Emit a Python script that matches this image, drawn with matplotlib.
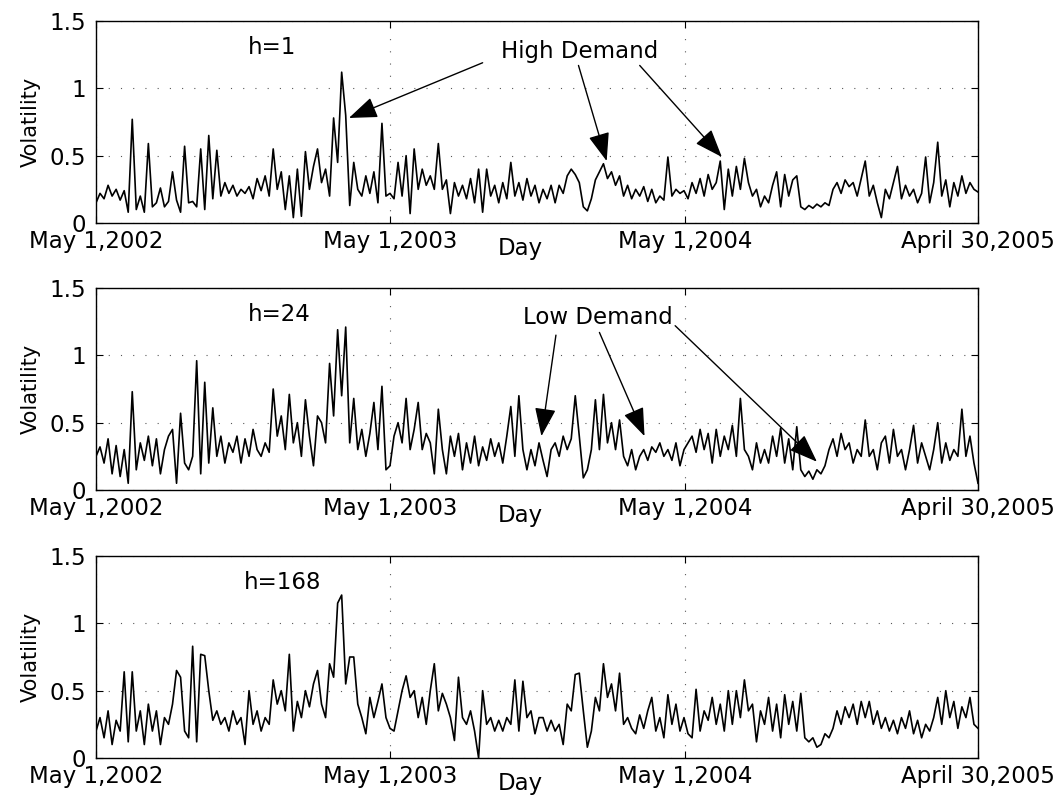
import numpy as np
import matplotlib
matplotlib.use("Agg")
import matplotlib.pyplot as plt

plt.rcParams["font.family"] = ["DejaVu Sans"]

# Volatility samples, one every ~5 days from May 1, 2002 to April 30, 2005
vol_h1 = [
    0.15, 0.22, 0.18, 0.28, 0.20, 0.25, 0.17, 0.24, 0.08, 0.77,
    0.10, 0.20, 0.08, 0.59, 0.12, 0.15, 0.26, 0.12, 0.16, 0.38,
    0.17, 0.08, 0.57, 0.15, 0.16, 0.12, 0.55, 0.10, 0.65, 0.18,
    0.54, 0.20, 0.30, 0.22, 0.28, 0.20, 0.25, 0.22, 0.27, 0.18,
    0.33, 0.24, 0.35, 0.20, 0.55, 0.25, 0.38, 0.10, 0.35, 0.04,
    0.40, 0.05, 0.53, 0.25, 0.42, 0.55,
    0.30, 0.40, 0.20, 0.78, 0.45, 1.12, 0.80, 0.13, 0.45, 0.25,
    0.20, 0.35, 0.22, 0.38, 0.15, 0.74, 0.20, 0.22, 0.18, 0.45,
    0.20, 0.50, 0.07, 0.55, 0.25, 0.40, 0.28, 0.35, 0.25, 0.59,
    0.25, 0.32, 0.07, 0.30, 0.20, 0.28, 0.18, 0.33, 0.15, 0.40,
    0.08, 0.40, 0.20, 0.28, 0.15, 0.30, 0.18, 0.45, 0.20, 0.30,
    0.17, 0.33, 0.20, 0.28, 0.15,
    0.25, 0.18, 0.28, 0.15, 0.28, 0.22, 0.35, 0.40, 0.36, 0.30,
    0.12, 0.09, 0.18, 0.32, 0.38, 0.44, 0.33, 0.38, 0.28, 0.35,
    0.20, 0.28, 0.18, 0.25, 0.20, 0.27, 0.16, 0.25, 0.15, 0.20,
    0.17, 0.49, 0.20, 0.25, 0.22, 0.24, 0.18, 0.30, 0.22, 0.33,
    0.20, 0.36, 0.25, 0.30, 0.46, 0.10, 0.40, 0.20, 0.42, 0.25,
    0.48, 0.30, 0.20, 0.25, 0.12,
    0.20, 0.15, 0.28, 0.38, 0.12, 0.36, 0.20, 0.32, 0.35, 0.12,
    0.10, 0.13, 0.11, 0.14, 0.12, 0.15, 0.13, 0.25, 0.30, 0.22,
    0.32, 0.27, 0.30, 0.20, 0.33, 0.46, 0.20, 0.28, 0.15, 0.04,
    0.25, 0.18, 0.30, 0.42, 0.18, 0.28, 0.20, 0.25, 0.15, 0.22,
    0.49, 0.15, 0.30, 0.60, 0.20, 0.32, 0.12, 0.30, 0.20, 0.35,
    0.22, 0.30, 0.25, 0.23,
]

vol_h24 = [
    0.25, 0.32, 0.20, 0.38, 0.12, 0.33, 0.10, 0.30, 0.05, 0.73,
    0.15, 0.35, 0.22, 0.40, 0.18, 0.38, 0.12, 0.30, 0.40, 0.45,
    0.05, 0.57, 0.20, 0.15, 0.25, 0.96, 0.12, 0.80, 0.20, 0.61,
    0.25, 0.40, 0.20, 0.35, 0.28, 0.40, 0.20, 0.38, 0.25, 0.45,
    0.30, 0.25, 0.35, 0.28, 0.75, 0.40, 0.55, 0.30, 0.71, 0.35,
    0.50, 0.25, 0.67, 0.40, 0.18, 0.55,
    0.50, 0.35, 0.94, 0.55, 1.19, 0.70, 1.21, 0.35, 0.68, 0.30,
    0.45, 0.25, 0.42, 0.65, 0.30, 0.77, 0.15, 0.18, 0.40, 0.50,
    0.35, 0.68, 0.30, 0.45, 0.65, 0.30, 0.42, 0.35, 0.12, 0.60,
    0.30, 0.12, 0.40, 0.25, 0.42, 0.15, 0.35, 0.20, 0.40, 0.18,
    0.32, 0.22, 0.38, 0.25, 0.35, 0.20, 0.40, 0.62, 0.25, 0.70,
    0.30, 0.15, 0.30, 0.18, 0.35,
    0.22, 0.10, 0.30, 0.35, 0.25, 0.40, 0.30, 0.38, 0.70, 0.40,
    0.09, 0.15, 0.30, 0.67, 0.30, 0.71, 0.35, 0.50, 0.30, 0.52,
    0.25, 0.18, 0.30, 0.15, 0.25, 0.30, 0.22, 0.32, 0.28, 0.35,
    0.25, 0.30, 0.22, 0.35, 0.18, 0.30, 0.35, 0.40, 0.28, 0.45,
    0.30, 0.42, 0.20, 0.45, 0.25, 0.40, 0.30, 0.48, 0.25, 0.68,
    0.30, 0.25, 0.15, 0.35, 0.20,
    0.30, 0.20, 0.40, 0.25, 0.46, 0.20, 0.38, 0.15, 0.47, 0.15,
    0.10, 0.14, 0.08, 0.15, 0.12, 0.18, 0.30, 0.38, 0.25, 0.42,
    0.30, 0.35, 0.20, 0.30, 0.25, 0.52, 0.25, 0.30, 0.15, 0.35,
    0.40, 0.20, 0.45, 0.25, 0.30, 0.15, 0.30, 0.48, 0.20, 0.35,
    0.25, 0.15, 0.30, 0.50, 0.20, 0.35, 0.22, 0.30, 0.25, 0.60,
    0.25, 0.40, 0.20, 0.05,
]

vol_h168 = [
    0.20, 0.30, 0.15, 0.35, 0.10, 0.28, 0.20, 0.64, 0.12, 0.64,
    0.20, 0.35, 0.10, 0.40, 0.20, 0.35, 0.10, 0.30, 0.25, 0.40,
    0.65, 0.60, 0.20, 0.15, 0.83, 0.12, 0.77, 0.76, 0.50, 0.28,
    0.35, 0.25, 0.30, 0.20, 0.35, 0.25, 0.30, 0.10, 0.50, 0.25,
    0.35, 0.20, 0.30, 0.25, 0.58, 0.40, 0.50, 0.35, 0.77, 0.20,
    0.42, 0.30, 0.50, 0.38, 0.55, 0.65,
    0.40, 0.30, 0.70, 0.60, 1.15, 1.21, 0.55, 0.75, 0.75, 0.40,
    0.30, 0.18, 0.45, 0.30, 0.42, 0.55, 0.30, 0.22, 0.20, 0.35,
    0.50, 0.61, 0.45, 0.50, 0.30, 0.45, 0.25, 0.50, 0.70, 0.35,
    0.48, 0.40, 0.30, 0.13, 0.60, 0.30, 0.25, 0.35, 0.20, 0.00,
    0.50, 0.25, 0.30, 0.20, 0.28, 0.20, 0.30, 0.25, 0.58, 0.20,
    0.57, 0.30, 0.35, 0.18, 0.30,
    0.30, 0.20, 0.28, 0.20, 0.25, 0.10, 0.40, 0.35, 0.62, 0.63,
    0.35, 0.08, 0.20, 0.45, 0.35, 0.70, 0.45, 0.55, 0.35, 0.63,
    0.25, 0.30, 0.22, 0.18, 0.32, 0.22, 0.35, 0.45, 0.20, 0.30,
    0.15, 0.47, 0.25, 0.40, 0.20, 0.30, 0.18, 0.15, 0.51, 0.20,
    0.35, 0.28, 0.45, 0.25, 0.40, 0.20, 0.50, 0.25, 0.50, 0.30,
    0.58, 0.35, 0.40, 0.12, 0.35,
    0.25, 0.45, 0.20, 0.40, 0.15, 0.47, 0.25, 0.42, 0.20, 0.48,
    0.15, 0.12, 0.15, 0.08, 0.10, 0.18, 0.15, 0.22, 0.35, 0.25,
    0.38, 0.30, 0.40, 0.25, 0.42, 0.30, 0.42, 0.25, 0.35, 0.22,
    0.30, 0.20, 0.28, 0.18, 0.30, 0.22, 0.35, 0.18, 0.28, 0.15,
    0.25, 0.20, 0.30, 0.45, 0.25, 0.50, 0.30, 0.42, 0.22, 0.38,
    0.30, 0.45, 0.25, 0.22,
]

tick_days = [0, 365, 731, 1095]
tick_labels = ["May 1,2002", "May 1,2003", "May 1,2004", "April 30,2005"]
panel_titles = ["h=1", "h=24", "h=168"]
title_days = [218, 228, 232]

FS = 16.5
W, H = 1064, 796
LEFT, RIGHT = 96, 978
PANEL_TOPS = [21, 288, 556]
PANEL_H = 202

fig = plt.figure(figsize=(W / 100, H / 100), dpi=100)

axes = []
for top in PANEL_TOPS:
    ax = fig.add_axes([LEFT / W, 1 - (top + PANEL_H) / H,
                       (RIGHT - LEFT) / W, PANEL_H / H])
    axes.append(ax)

series = [vol_h1, vol_h24, vol_h168]
for ax, vals, title, tday in zip(axes, series, panel_titles, title_days):
    days = np.linspace(0, 1095, len(vals))
    ax.plot(days, vals, color="k", lw=1.2)
    ax.set_xlim(0, 1095)
    ax.set_ylim(0, 1.5)
    ax.set_yticks([0, 0.5, 1, 1.5])
    ax.set_yticklabels(["0", "0.5", "1", "1.5"], fontsize=FS)
    ax.set_xticks(tick_days)
    ax.set_xticklabels(tick_labels, fontsize=FS)
    ax.tick_params(direction="in", length=5, width=0.8, top=True, right=True)
    ax.tick_params(axis="x", pad=5)
    ax.tick_params(axis="y", pad=7)
    for lab in ax.get_yticklabels():
        lab.set_verticalalignment("center_baseline")
    ax.grid(True, color="0.35", ls=(0, (1, 10)), lw=0.8)
    for s in ax.spines.values():
        s.set_linewidth(1.0)
    ax.set_ylabel("Volatility", fontsize=FS - 1.5)
    ax.yaxis.set_label_coords(-0.063, 0.5)
    ax.text(0.481, -0.125, "Day", transform=ax.transAxes, fontsize=FS,
            ha="center", va="center")
    ax.text(tday, 1.3, title, fontsize=FS, ha="center", va="center")

arrow = dict(arrowstyle="-|>,head_length=1.6,head_width=0.6", color="k",
             lw=1.0, mutation_scale=11, shrinkA=0, shrinkB=0)

# High demand periods (hourly horizon)
ax = axes[0]
ax.text(600, 1.27, "High Demand", fontsize=FS, ha="center", va="center")
for start, tip in [((480, 1.19), (314, 0.78)),
                   ((599, 1.17), (634, 0.46)),
                   ((675, 1.17), (777, 0.49))]:
    ax.annotate("", xy=tip, xytext=start, arrowprops=arrow)

# Low demand periods (daily horizon)
ax = axes[1]
ax.text(623, 1.28, "Low Demand", fontsize=FS, ha="center", va="center")
for start, tip in [((571, 1.15), (553, 0.40)),
                   ((625, 1.17), (681, 0.40)),
                   ((719, 1.22), (895, 0.21))]:
    ax.annotate("", xy=tip, xytext=start, arrowprops=arrow)

fig.savefig("out.png", dpi=100)
